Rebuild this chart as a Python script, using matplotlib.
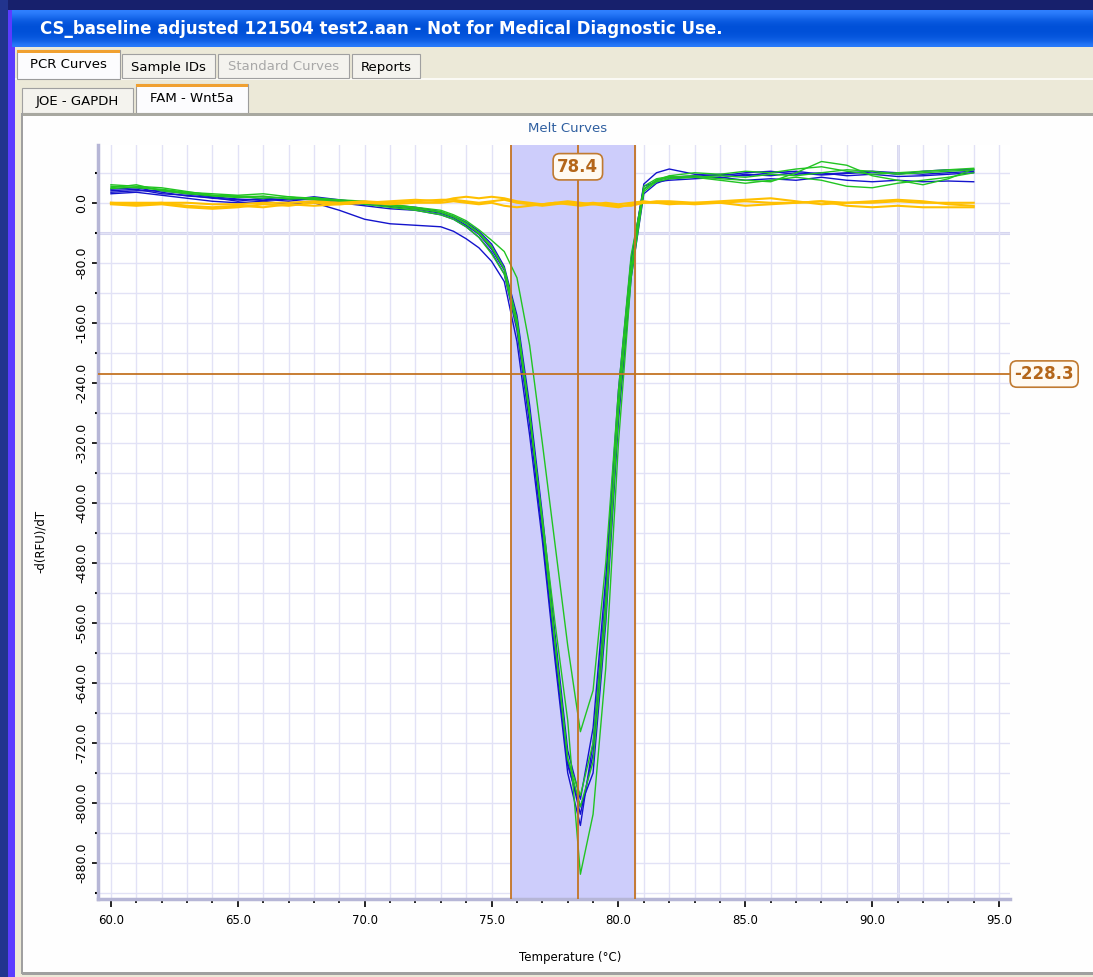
import numpy as np
import matplotlib
matplotlib.use('Agg')
import matplotlib.pyplot as plt
from matplotlib.patches import Rectangle
from matplotlib.ticker import MultipleLocator, FormatStrFormatter

plt.rcParams['font.family'] = 'DejaVu Sans'

# Temperatures (°C) of the sampled points
temps = [60, 61, 62, 63, 64, 65, 66, 67, 68, 69, 70, 71, 72, 73, 73.5, 74, 74.5,
         75, 75.5, 76, 76.5, 77, 77.5, 78, 78.5, 79, 79.5, 80, 80.5, 81, 81.5, 82,
         83, 84, 85, 86, 87, 88, 89, 90, 91, 92, 93, 94]

# FAM - Wnt5a, -d(RFU)/dT
blue_1 = [16, 18, 12, 10, 6, 4, 5, 2, 6, 2, -2, -5, -8, -14, -20, -30, -42,
          -62, -90, -160, -285, -430, -590, -745, -815, -735, -540, -275, -95, 18, 30, 34,
          36, 33, 38, 36, 40, 37, 39, 41, 38, 42, 44, 44]
blue_2 = [12, 14, 10, 6, 2, 0, 2, -2, 0, -10, -22, -28, -30, -32, -38, -48, -60,
          -78, -105, -185, -310, -450, -610, -760, -830, -720, -520, -260, -80, 25, 40, 45,
          38, 36, 40, 42, 38, 40, 36, 38, 35, 36, 38, 40]
blue_3 = [18, 20, 14, 9, 7, 2, 6, 4, 8, 4, 0, -3, -6, -12, -18, -26, -38,
          -55, -85, -150, -270, -415, -575, -730, -795, -700, -500, -250, -75, 22, 28, 30,
          32, 34, 30, 32, 30, 34, 30, 28, 30, 28, 29, 28]
blue_4 = [14, 16, 16, 12, 8, 5, 3, 5, 4, 0, -4, -8, -10, -16, -22, -32, -46,
          -66, -95, -170, -295, -440, -600, -750, -805, -760, -560, -290, -100, 12, 26, 32,
          35, 38, 36, 40, 42, 38, 40, 42, 40, 38, 40, 42]
green_1 = [22, 20, 18, 14, 12, 10, 12, 8, 6, 4, 2, -2, -6, -10, -16, -24, -36,
           -50, -65, -100, -190, -320, -455, -590, -705, -650, -480, -250, -70, 18, 30, 34,
           36, 32, 30, 28, 40, 55, 50, 36, 30, 24, 32, 45]
green_2 = [20, 24, 16, 12, 10, 8, 6, 8, 4, 2, -2, -6, -10, -16, -22, -32, -46,
           -68, -95, -165, -285, -420, -560, -690, -895, -815, -620, -320, -100, 15, 28, 32,
           34, 30, 26, 30, 34, 30, 22, 20, 26, 30, 34, 40]
green_3 = [24, 22, 20, 15, 10, 9, 8, 6, 5, 3, 0, -4, -8, -12, -18, -27, -40,
           -58, -88, -155, -280, -425, -585, -740, -805, -745, -550, -280, -90, 18, 30, 36,
           40, 38, 42, 40, 45, 48, 42, 38, 40, 42, 44, 46]
green_4 = [19, 21, 17, 13, 9, 7, 9, 5, 7, 3, 1, -3, -7, -13, -19, -28, -41,
           -60, -88, -158, -282, -428, -588, -742, -790, -720, -530, -265, -85, 22, 32, 35,
           34, 36, 34, 38, 36, 40, 44, 42, 38, 40, 42, 44]
yellow_1 = [0, 0, 0, 0, -2, -2, 0, 0, 2, 0, 2, 0, 2, 4, 4, 2, 0,
            2, 4, 0, -2, -4, -2, 0, -2, 0, -2, -4, -4, 0, 2, 2,
            0, 0, 2, 0, 0, 2, 0, 0, 2, 0, 0, 0]
yellow_2 = [-2, -4, -2, -6, -8, -6, -2, -4, 0, -2, 0, 2, 4, 2, 6, 8, 6,
            8, 6, 2, 0, -2, 0, 2, 0, -2, -4, -6, -2, 0, 0, -2,
            0, 2, 4, 6, 2, -2, 0, 2, 4, 2, -2, -4]
yellow_3 = [0, -2, 0, -4, -6, -4, -6, -2, -4, -2, 0, -2, 0, 0, 2, 0, -2,
            0, -4, -6, -4, -2, 0, -2, -4, -2, 0, -2, 0, 2, 0, 0,
            -2, 0, -4, -2, 0, 2, -4, -6, -4, -6, -6, -6]

blue_curves = [blue_1, blue_2, blue_3, blue_4]
green_curves = [green_1, green_2, green_3, green_4]
yellow_curves = [yellow_1, yellow_2, yellow_3]

melt_range = (75.75, 80.67)
peak_temp = 78.4
threshold = -228.3

W, H = 1093, 977
fig = plt.figure(figsize=(W / 100, H / 100), dpi=100)

# ---- window chrome, drawn in pixel coordinates ----
bg = fig.add_axes([0, 0, 1, 1], zorder=0)
bg.set_xlim(0, W)
bg.set_ylim(H, 0)
bg.axis('off')

def box(x0, y0, x1, y1, fc, ec='none', lw=0, z=1):
    bg.add_patch(Rectangle((x0, y0), x1 - x0, y1 - y0, facecolor=fc, edgecolor=ec,
                           linewidth=lw, zorder=z))

box(0, 0, W, H, '#17206c')
box(0, 0, 8, H, '#22348e')
box(8, 10, 15, H, '#5b3cff')
# title bar with a vertical gradient
grad = np.array([[0.0], [0.25], [0.55], [0.75], [0.85], [0.85], [0.8], [0.7], [0.5], [0.1]])
xp_blue = matplotlib.colors.LinearSegmentedColormap.from_list('xp', ['#2f80ff', '#0050d8'])
bg.imshow(grad, cmap=xp_blue, extent=(12, W, 47, 10), aspect='auto',
          interpolation='bicubic', zorder=2)
bg.set_xlim(0, W)
bg.set_ylim(H, 0)
bg.text(40, 29, 'CS_baseline adjusted 121504 test2.aan - Not for Medical Diagnostic Use.',
        color='white', fontsize=12, fontweight='bold', va='center', ha='left', zorder=3)

box(15, 47, W, H, '#ece9d8')
box(15, 78, W, 80, '#fbfaf5')

# first tab row
tabs1 = [('PCR Curves', 17, 120, True, 'black'),
         ('Sample IDs', 122, 215, False, 'black'),
         ('Standard Curves', 218, 349, False, '#a8a8a8'),
         ('Reports', 352, 420, False, 'black')]
for label, x0, x1, sel, tc in tabs1:
    if sel:
        box(x0, 50, x1, 79, '#fcfcfe', '#9c9c9c', 0.8)
        box(x0, 50, x1, 53, '#f0a030')
        bg.text((x0 + x1) / 2, 64, label, fontsize=9.5, ha='center', va='center', color=tc)
    else:
        box(x0, 54, x1, 78, '#f4f3ee', '#a0a0a0', 0.8)
        bg.text((x0 + x1) / 2, 67, label, fontsize=9.5, ha='center', va='center', color=tc)

# second tab row
tabs2 = [('JOE - GAPDH', 22, 133, False), ('FAM - Wnt5a', 136, 248, True)]
for label, x0, x1, sel in tabs2:
    if sel:
        box(x0, 84, x1, 113, '#fcfcfe', '#9c9c9c', 0.8)
        box(x0, 84, x1, 87, '#f0a030')
        bg.text((x0 + x1) / 2, 98, label, fontsize=9.5, ha='center', va='center')
    else:
        box(x0, 88, x1, 113, '#f4f3ee', '#a0a0a0', 0.8)
        bg.text((x0 + x1) / 2, 101, label, fontsize=9.5, ha='center', va='center')

box(22, 113, W, 116, '#a8a8a0')
box(22, 116, W, 972, '#fefefe')
box(21, 113, 23, 974, '#a0a0a0')
box(22, 972, W, 975, '#a0a0a0')

bg.text(568, 129, 'Melt Curves', fontsize=9.5, color='#2f5fa0', ha='center', va='center')
bg.text(570, 958, 'Temperature (°C)', fontsize=8.5, ha='center', va='center')
bg.text(40, 541, '-d(RFU)/dT', fontsize=8.5, ha='center', va='center', rotation=90)

# ---- plot area ----
ax = fig.add_axes([98 / W, 1 - 899 / H, (1010 - 98) / W, (899 - 145) / H], zorder=1)
ax.set_facecolor('white')
ax.set_xlim(59.49, 95.43)
ax.set_ylim(-928, 77)

ax.xaxis.set_major_locator(MultipleLocator(5))
ax.xaxis.set_minor_locator(MultipleLocator(1))
ax.yaxis.set_major_locator(MultipleLocator(80))
ax.yaxis.set_minor_locator(MultipleLocator(40))
ax.xaxis.set_major_formatter(FormatStrFormatter('%.1f'))
ax.yaxis.set_major_formatter(FormatStrFormatter('%.1f'))
ax.grid(which='both', color='#e2e2f6', linewidth=1.0, zorder=0)
ax.axhline(-40, color='#d4d4ee', linewidth=2.2, zorder=0)
ax.axvline(91, color='#d4d4ee', linewidth=2.0, zorder=0)
ax.set_axisbelow(True)

for side in ['top', 'right']:
    ax.spines[side].set_visible(False)
for side in ['left', 'bottom']:
    ax.spines[side].set_color('#b6b6d6')
    ax.spines[side].set_linewidth(2.5)

ax.tick_params(axis='x', which='major', length=6, width=1.2, color='black', labelsize=8.5, pad=5)
ax.tick_params(axis='x', which='minor', length=3, width=1.2, color='black')
ax.tick_params(axis='y', which='major', length=4, width=1.2, color='black', labelsize=9, pad=3)
ax.tick_params(axis='y', which='minor', length=2, width=1.5, color='black')
for lab in ax.get_yticklabels():
    lab.set_rotation(90)
    lab.set_va('center')

# melt region and cursor lines
ax.axvspan(melt_range[0], melt_range[1], color='#cdcdfb', zorder=1)
for x in melt_range + (peak_temp,):
    ax.axvline(x, color='#c47424', linewidth=1.3, zorder=5)
ax.axhline(threshold, color='#c47424', linewidth=1.3, zorder=5)

for c in blue_curves:
    ax.plot(temps, c, color='#1414cc', linewidth=1.0, zorder=3)
for c in green_curves:
    ax.plot(temps, c, color='#22c422', linewidth=1.0, zorder=3)
for c in yellow_curves:
    ax.plot(temps, c, color='#ffc000', linewidth=1.5, zorder=4)

label_style = dict(boxstyle='round,pad=0.25,rounding_size=0.4', facecolor='#fffaf2',
                   edgecolor='#c07a30', linewidth=1.2)
ax.text(peak_temp, 48, f'{peak_temp}', fontsize=12, fontweight='bold', color='#b4661a',
        ha='center', va='center', bbox=label_style, zorder=6)
ax.text(1.0375, threshold, f'{threshold}', transform=ax.get_yaxis_transform(),
        fontsize=12, fontweight='bold', color='#b4661a', ha='center', va='center',
        bbox=label_style, zorder=6, clip_on=False)

fig.savefig('out.png', dpi=100)
